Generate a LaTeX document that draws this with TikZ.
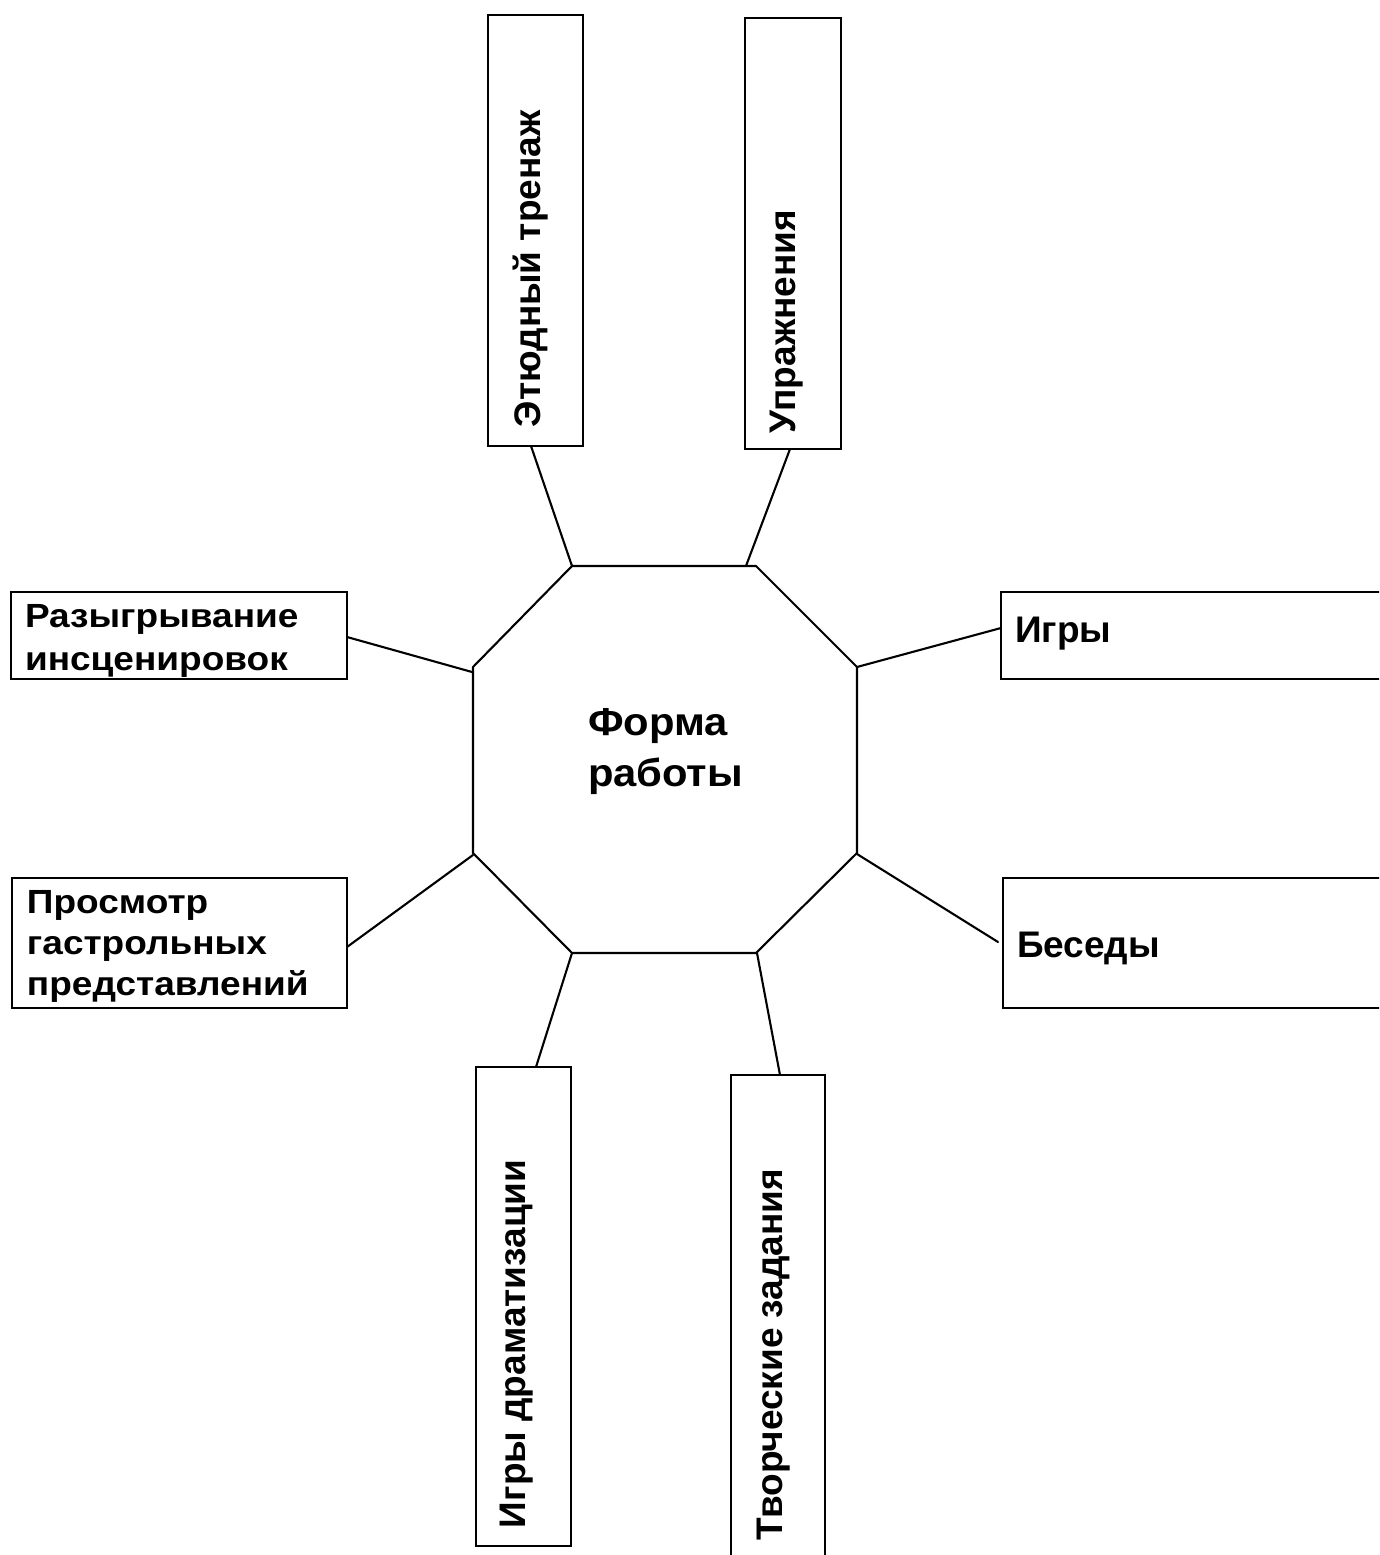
\documentclass[tikz,border=0pt]{standalone}
\usepackage{fontspec}
\setmainfont{Liberation Sans}
\usetikzlibrary{calc}
\begin{document}
\begin{tikzpicture}[x=1pt,y=-1pt,
  box/.style={draw, line width=2.7pt, inner sep=0pt, outer sep=0pt, rectangle},
  link/.style={line width=2.1pt, line cap=round},
  big/.style={font=\fontsize{37}{52}\selectfont\bfseries, inner sep=0pt, outer sep=0pt},
  small/.style={inner sep=0pt, outer sep=0pt, align=left, xscale=1.105}]
\useasboundingbox (0,0) rectangle (1379,1555);
\clip (0,0) rectangle (1379,1555);
% boxes
\node[box, minimum width=95pt, minimum height=431pt] (b1) at (535.5,230.5) {};
\node[box, minimum width=96pt, minimum height=431pt] (b2) at (793,233.5) {};
\node[box, minimum width=336pt, minimum height=87pt] (b3) at (179,635.5) {};
\node[box, minimum width=335pt, minimum height=130pt] (b4) at (179.5,943) {};
\node[box, minimum width=399pt, minimum height=87pt] (b5) at (1200.5,635.5) {};
\node[box, minimum width=397pt, minimum height=130pt] (b6) at (1201.5,943) {};
\node[box, minimum width=95pt, minimum height=479pt] (b7) at (523.5,1306.5) {};
\node[box, minimum width=94pt, minimum height=495pt] (b8) at (778,1322.5) {};
% texts
\node[big, rotate=90, anchor=base west] (t1) at (540,427) {Этюдный тренаж};
\node[big, rotate=90, anchor=base west] (t2) at (795,433) {Упражнения};
\node[small, font=\fontsize{33.5}{43}\selectfont\bfseries, anchor=base west] (t3) at (25,670) {Разыгрывание\\инсценировок};
\node[small, font=\fontsize{33.5}{41}\selectfont\bfseries, anchor=base west] (t4) at (27,995) {Просмотр\\гастрольных\\представлений};
\node[big, anchor=base west] (t5) at (1015,642) {Игры};
\node[big, anchor=base west] (t6) at (1017,957) {Беседы};
\node[big, rotate=90, anchor=base west] (t7) at (525,1528) {Игры драматизации};
\node[big, rotate=90, anchor=base west] (t8) at (782,1540) {Творческие задания};
% octagon
\coordinate (o1) at (572,566);
\coordinate (o2) at (756,566);
\coordinate (o3) at (857,667);
\coordinate (o4) at (857,853);
\coordinate (o5) at (756,953);
\coordinate (o6) at (572,953);
\coordinate (o7) at (473,853);
\coordinate (o8) at (473,667);
\draw[line width=2.1pt, line join=miter] (o1) -- (o2) -- (o3) -- (o4) -- (o5) -- (o6) -- (o7) -- (o8) -- cycle;
\node[inner sep=0pt, outer sep=0pt, align=left, xscale=1.07, font=\fontsize{39}{51}\selectfont\bfseries, anchor=base west] (c) at (588,786) {Форма\\работы};
% connector ends on the octagon
\coordinate (p2) at (746,566);
\coordinate (p3) at (472,672);
\coordinate (p5) at (473,855);
\coordinate (p6) at (857,854);
\coordinate (p8) at (757,953);
% connectors
\draw[link] ($(b1.south)+(-4.5,0)$) -- (o1);
\draw[link] ($(b2.south)+(-3,0)$) -- (p2);
\draw[link] ($(b3.east)+(0,1.5)$) -- (p3);
\draw[link] ($(b5.west)+(0,-7.5)$) -- (o3);
\draw[link] ($(b4.east)+(0,4)$) -- (p5);
\draw[link] ($(b6.west)+(-5,-1)$) -- (p6);
\draw[link] ($(b7.north)+(12.5,0)$) -- (o6);
\draw[link] ($(b8.north)+(2,0)$) -- (p8);
\end{tikzpicture}
\end{document}
